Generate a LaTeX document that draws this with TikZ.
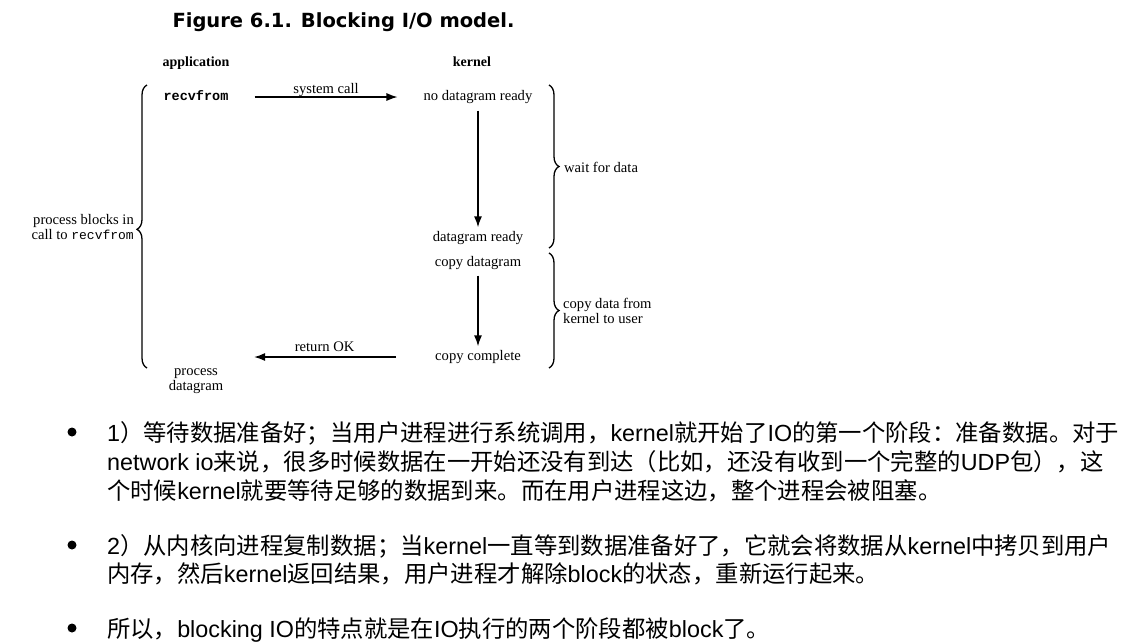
\documentclass[tikz,border=0pt]{standalone}
\usepackage{fontspec}
\setmainfont{Liberation Serif}
\setsansfont{Liberation Sans}
\setmonofont{Liberation Mono}
\newfontfamily\cjk{Noto Sans CJK SC}
\newfontfamily\titlefont{DejaVu Sans}
\newcommand\zh[1]{{\cjk #1}}
\usetikzlibrary{decorations.pathreplacing,arrows.meta}
\begin{document}
\begin{tikzpicture}[x=1pt,y=-1pt,
  lbl/.style={font=\rmfamily\fontsize{14.6}{16}\selectfont, inner sep=0pt, text height=9.8pt, text depth=3pt},
  hdr/.style={lbl, font=\rmfamily\bfseries\fontsize{14}{16}\selectfont},
  ml/.style={font=\rmfamily\fontsize{14.6}{15.5}\selectfont, inner sep=0pt},
  arr/.style={-{Latex[length=11pt,width=8pt]}, line width=1.6pt},
  brc/.style={decorate, line width=1.3pt},
  body/.style={anchor=base west, inner sep=0pt, font=\sffamily\fontsize{23.35}{28}\selectfont},
  dot/.style={circle, fill, inner sep=0pt, minimum size=9pt},
]
\fill[white] (0,0) rectangle (1132,641);
\useasboundingbox (0,0) rectangle (1132,641);

% title
\node[anchor=base, inner sep=0pt, font=\titlefont\bfseries\fontsize{19.5}{22}\selectfont] (title) at (343.5,27) {Figure 6.1. Blocking I/O model.};

% headers
\node[hdr] (app) at (196,63) {application};
\node[hdr] (ker) at (472,63) {kernel};

% nodes
\node[lbl, font=\ttfamily\bfseries\fontsize{13.5}{16}\selectfont] (recv) at (196,97) {recvfrom};
\node[lbl] (nodr) at (478,97) {no datagram ready};
\node[lbl] (dready) at (478,238) {datagram ready};
\node[lbl] (cdg) at (478,263) {copy datagram};
\node[lbl] (cc) at (478,357) {copy complete};
\node[ml, align=center] (proc) at (196,381) {process\\datagram};
\node[ml, align=right, anchor=east] (pblk) at (134,227) {process blocks in\\call to {\ttfamily\fontsize{13}{15.5}\selectfont recvfrom}};
\node[ml, anchor=west] (wfd) at (564,167) {wait for data};
\node[ml, align=left, anchor=west] (cdf) at (563,311) {copy data from\\kernel to user};

% connectors
\coordinate (retend) at (254,357);
\draw[arr, line width=1.2pt, shorten <=26pt, shorten >=26pt] (recv.east) -- node[lbl, above=0pt] (sc) {system call} (nodr.west);
\draw[arr, shorten <=7pt, shorten >=4pt] (nodr.south) -- (dready.north);
\draw[arr, shorten <=6pt, shorten >=4pt] (cdg.south) -- (cc.north);
\draw[arr, shorten <=39pt] (cc.west) -- node[lbl, above=2pt, pos=0.61] (rok) {return OK} (retend);

% braces
\draw[brc, decoration={brace, amplitude=10pt, aspect=0.49}] (147,368) -- (147,85);
\draw[brc, decoration={brace, amplitude=10pt}] (549,85) -- (549,248);
\draw[brc, decoration={brace, amplitude=10pt}] (549,253) -- (549,368);

% bottom text
\node[dot] (b1) at (72,432) {};
\node[body] (l1) at (107,441) {1\zh{）等待数据准备好；当用户进程进行系统调用，}kernel\zh{就开始了}IO\zh{的第一个阶段：准备数据。对于}};
\node[body] (l2) at (107,470) {network io\zh{来说，很多时候数据在一开始还没有到达（比如，还没有收到一个完整的}UDP\zh{包），这}};
\node[body] (l3) at (107,499) {\zh{个时候}kernel\zh{就要等待足够的数据到来。而在用户进程这边，整个进程会被阻塞。}};

\node[dot] (b2) at (72,545) {};
\node[body] (l4) at (107,554) {2\zh{）从内核向进程复制数据；当}kernel\zh{一直等到数据准备好了，它就会将数据从}kernel\zh{中拷贝到用户}};
\node[body] (l5) at (107,582) {\zh{内存，然后}kernel\zh{返回结果，用户进程才解除}block\zh{的状态，重新运行起来。}};

\node[dot] (b3) at (72,628) {};
\node[body] (l6) at (107,637) {\zh{所以，}blocking IO\zh{的特点就是在}IO\zh{执行的两个阶段都被}block\zh{了。}};
\end{tikzpicture}
\end{document}
